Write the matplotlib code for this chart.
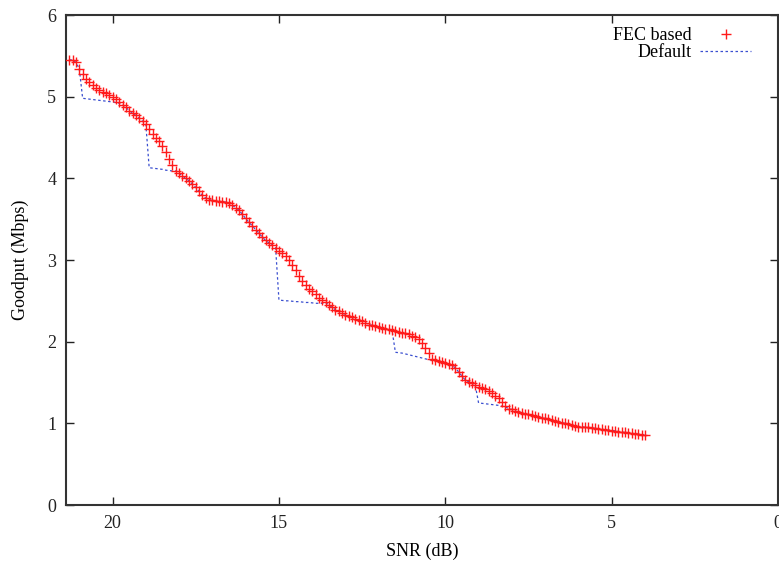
import numpy as np
import matplotlib
matplotlib.use("Agg")
import matplotlib.pyplot as plt

plt.rcParams['font.family'] = ['Liberation Serif', 'DejaVu Serif']

# SNR grid (dB), from 21.3 down to 4.0 in 0.1 dB steps
snr = np.round(np.arange(21.3, 3.95, -0.1), 1)

fec_based = [
    5.45, 5.45, 5.42, 5.34,
    5.28, 5.22, 5.18, 5.14, 5.11, 5.08, 5.06, 5.04, 5.02, 5.00,
    4.97, 4.94, 4.90, 4.87, 4.83, 4.80, 4.77, 4.74, 4.70, 4.66,
    4.60, 4.54, 4.49, 4.46, 4.40, 4.32, 4.24, 4.16, 4.09, 4.06,
    4.03, 4.00, 3.97, 3.93, 3.89, 3.84, 3.79, 3.76, 3.74, 3.73,
    3.72, 3.72, 3.71, 3.71, 3.70, 3.67, 3.64, 3.61, 3.56, 3.51,
    3.46, 3.42, 3.37, 3.33, 3.28, 3.24, 3.21, 3.18, 3.15, 3.11,
    3.08, 3.05, 3.00, 2.94, 2.88, 2.80, 2.74, 2.69, 2.65, 2.62,
    2.58, 2.54, 2.51, 2.48, 2.45, 2.42, 2.39, 2.37, 2.35, 2.33,
    2.31, 2.30, 2.28, 2.26, 2.25, 2.23, 2.21, 2.20, 2.19, 2.18,
    2.17, 2.16, 2.15, 2.14, 2.13, 2.12, 2.11, 2.11, 2.09, 2.07,
    2.06, 2.03, 1.98, 1.92, 1.86, 1.79, 1.77, 1.76, 1.75, 1.74,
    1.73, 1.71, 1.68, 1.63, 1.58, 1.53, 1.51, 1.49, 1.47, 1.45,
    1.43, 1.42, 1.40, 1.37, 1.34, 1.31, 1.26, 1.21, 1.18, 1.17,
    1.15, 1.14, 1.13, 1.12, 1.11, 1.10, 1.09, 1.08, 1.07, 1.06,
    1.05, 1.04, 1.03, 1.02, 1.01, 1.00, 0.99, 0.98, 0.97, 0.96,
    0.96, 0.95, 0.95, 0.94, 0.94, 0.93, 0.93, 0.92, 0.92, 0.91,
    0.91, 0.90, 0.89, 0.89, 0.88, 0.88, 0.87, 0.87, 0.86, 0.86,
]

default = [
    5.45, 5.45, 5.42, 5.34,
    4.98, 4.975, 4.97, 4.965, 4.96, 4.955, 4.95, 4.945, 4.94, 4.935,
    4.93, 4.92, 4.90, 4.87, 4.83, 4.80, 4.77, 4.74, 4.70, 4.66,
    4.13, 4.125, 4.12, 4.115, 4.11, 4.10, 4.095, 4.09, 4.09, 4.06,
    4.03, 4.00, 3.97, 3.93, 3.89, 3.84, 3.79, 3.76, 3.74, 3.73,
    3.72, 3.72, 3.71, 3.71, 3.70, 3.67, 3.64, 3.61, 3.56, 3.51,
    3.46, 3.42, 3.37, 3.33, 3.28, 3.24, 3.21, 3.18, 3.15, 2.51,
    2.505, 2.50, 2.50, 2.495, 2.49, 2.49, 2.485, 2.48, 2.48, 2.475,
    2.47, 2.47, 2.47, 2.48, 2.45, 2.42, 2.39, 2.37, 2.35, 2.33,
    2.31, 2.30, 2.28, 2.26, 2.25, 2.23, 2.21, 2.20, 2.19, 2.18,
    2.17, 2.16, 2.15, 2.14, 1.87, 1.865, 1.86, 1.85, 1.84, 1.83,
    1.82, 1.81, 1.80, 1.79, 1.78, 1.775, 1.77, 1.76, 1.75, 1.74,
    1.73, 1.71, 1.68, 1.63, 1.58, 1.53, 1.51, 1.49, 1.47, 1.25,
    1.245, 1.24, 1.235, 1.23, 1.225, 1.22, 1.21, 1.205, 1.18, 1.17,
    1.15, 1.14, 1.13, 1.12, 1.11, 1.10, 1.09, 1.08, 1.07, 1.06,
    1.05, 1.04, 1.03, 1.02, 1.01, 1.00, 0.99, 0.98, 0.97, 0.96,
    0.96, 0.95, 0.95, 0.94, 0.94, 0.93, 0.93, 0.92, 0.92, 0.91,
    0.91, 0.90, 0.89, 0.89, 0.88, 0.88, 0.87, 0.87, 0.86, 0.86,
]

x_ticks = [20, 15, 10, 5, 0]
y_ticks = [0, 1, 2, 3, 4, 5, 6]

fig = plt.figure(figsize=(7.79, 5.62), dpi=100)
ax = fig.add_axes([66 / 779, 1 - 505 / 562, (778 - 66) / 779, (505 - 15) / 562])

ax.plot(snr, default, linestyle=(0, (2, 2)), color='#3a4fd0', lw=0.9,
        label='Default', zorder=2)
ax.plot(snr, fec_based, linestyle='none', marker='+', color='#ff1a1a',
        markersize=6.5, markeredgewidth=1.0, label='FEC based', zorder=3)

ax.set_xlim(21.4, 0)
ax.set_ylim(0, 6)
ax.set_xticks(x_ticks)
ax.set_yticks(y_ticks)
ax.tick_params(direction='in', length=6, width=1, top=True, right=True,
               labelsize=13, pad=7, colors='#222222')
for s in ax.spines.values():
    s.set_linewidth(1.5)
    s.set_color('#333333')

ax.set_xlabel('SNR (dB)', fontsize=13, labelpad=8)
ax.set_ylabel('Goodput (Mbps)', fontsize=13, labelpad=13)

handles, labels = ax.get_legend_handles_labels()
ax.legend(handles[::-1], labels[::-1], loc='upper right',
          bbox_to_anchor=(760 / 779, 1 - 18 / 562), bbox_transform=fig.transFigure,
          markerfirst=False, frameon=False, fontsize=13, handlelength=2.8,
          handletextpad=0.5, labelspacing=0.0, borderpad=0, numpoints=1)

fig.savefig('out.png', dpi=100)
